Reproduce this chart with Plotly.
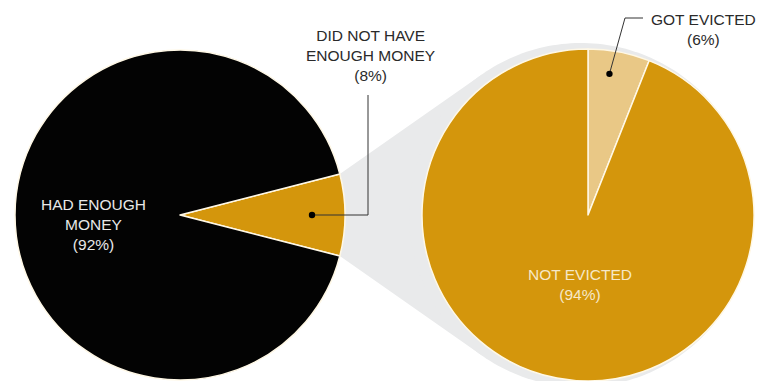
import numpy as np
import plotly.graph_objects as go

# ---- data ----
money_labels = ["DID NOT HAVE ENOUGH MONEY", "HAD ENOUGH MONEY"]
money_values = [8, 92]
evict_labels = ["GOT EVICTED", "NOT EVICTED"]
evict_values = [6, 94]

W, H = 762, 381
GOLD = "#d4960c"
LIGHT = "#e9c886"
BLACK = "#030303"
GREY = "#e9eaeb"
FONT = "Liberation Sans, Arial, sans-serif"

# geometry (pixels)
c1 = np.array([180.0, 215.0]); r1 = 165.0
c2 = np.array([588.0, 215.0]); r2 = 166.0
cg = np.array([581.0, 215.0]); rg = 172.0   # offset grey "shadow" disc

def dom(c, r):
    return dict(x=[(c[0] - r) / W, (c[0] + r) / W],
                y=[max(0, 1 - (c[1] + r) / H), 1 - (c[1] - r) / H])

fig = go.Figure()

half = money_values[0] / 100 * 360 / 2
a = np.radians(half)
P1 = c1 + r1 * np.array([np.cos(a), -np.sin(a)])
P2 = c1 + r1 * np.array([np.cos(a), np.sin(a)])

def tangents(P, C, R):
    d = P - C
    dist = np.linalg.norm(d)
    base = np.arctan2(d[1], d[0])
    off = np.arccos(R / dist)
    return [C + R * np.array([np.cos(base + s * off), np.sin(base + s * off)]) for s in (1, -1)]

T1 = min(tangents(P1, cg, rg), key=lambda p: p[1])
T2 = max(tangents(P2, cg, rg), key=lambda p: p[1])

poly = np.array([c1, P1, T1, cg, T2, P2, c1])
fig.add_trace(go.Scatter(x=poly[:, 0], y=poly[:, 1], fill="toself", mode="none",
                         fillcolor=GREY, hoverinfo="skip", showlegend=False))
th = np.linspace(0, 2 * np.pi, 240)
fig.add_trace(go.Scatter(x=cg[0] + rg * np.cos(th), y=cg[1] + rg * np.sin(th),
                         fill="toself", mode="none", fillcolor=GREY,
                         hoverinfo="skip", showlegend=False))

# pies
fig.add_trace(go.Pie(labels=money_labels, values=money_values, sort=False,
                     direction="clockwise", rotation=90 - half,
                     marker=dict(colors=[GOLD, BLACK], line=dict(color="#fff8e6", width=1.5)),
                     textinfo="none", hoverinfo="skip", domain=dom(c1, r1), showlegend=False))
fig.add_trace(go.Pie(labels=evict_labels, values=evict_values, sort=False,
                     direction="clockwise", rotation=0,
                     marker=dict(colors=[LIGHT, GOLD], line=dict(color="#fff8e6", width=1.5)),
                     textinfo="none", hoverinfo="skip", domain=dom(c2, r2), showlegend=False))

fig.update_layout(
    width=W, height=H, margin=dict(l=0, r=0, t=0, b=0),
    paper_bgcolor="white", plot_bgcolor="white",
    xaxis=dict(range=[0, W], visible=False, fixedrange=True),
    yaxis=dict(range=[H, 0], visible=False, fixedrange=True),
    font=dict(family=FONT),
)

# leader lines
d1 = c1 + 0.8 * r1 * np.array([1.0, 0.0])
m2 = np.radians(evict_values[0] / 100 * 360 / 2 * 0.8)
d2 = c2 + 0.86 * r2 * np.array([np.sin(m2), -np.cos(m2)])

fig.add_shape(type="path", xref="x", yref="y",
              path=f"M {d1[0]},{d1[1]} L 368,{d1[1]} L 368,95",
              line=dict(color="#333333", width=1))
fig.add_shape(type="path", xref="x", yref="y",
              path=f"M {d2[0]},{d2[1]} L 625,18 L 643,18",
              line=dict(color="#333333", width=1))
for d in (d1, d2):
    fig.add_shape(type="circle", xref="x", yref="y",
                  x0=d[0] - 3.2, x1=d[0] + 3.2, y0=d[1] - 3.2, y1=d[1] + 3.2,
                  fillcolor="black", line=dict(width=0))

fs = 15.5
fig.add_annotation(x=93, y=224, xref="x", yref="y", showarrow=False,
                   text="HAD ENOUGH<br>MONEY<br>(92%)",
                   font=dict(color="#e8e8e8", size=fs, family=FONT), align="center")
fig.add_annotation(x=370, y=55, xref="x", yref="y", showarrow=False,
                   text="DID NOT HAVE<br>ENOUGH MONEY<br>(8%)",
                   font=dict(color="#2a2a2a", size=fs, family=FONT), align="center")
fig.add_annotation(x=580, y=284, xref="x", yref="y", showarrow=False,
                   text="NOT EVICTED<br>(94%)",
                   font=dict(color="#f6e8c8", size=fs, family=FONT), align="center")
fig.add_annotation(x=703, y=29, xref="x", yref="y", showarrow=False,
                   text="GOT EVICTED<br>(6%)",
                   font=dict(color="#2a2a2a", size=fs, family=FONT), align="center")

fig.write_html("out.html")
